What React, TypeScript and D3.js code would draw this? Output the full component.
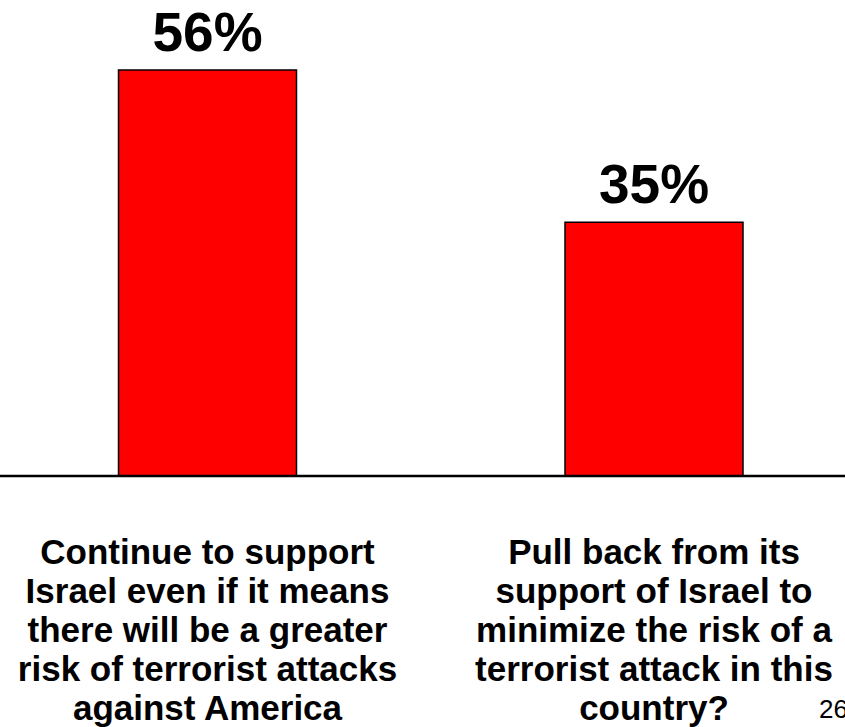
import React from "react";
import * as d3 from "d3";

const categories = ["continue", "pullback"];
const values = [56, 35];
const valueLabels = ["56%", "35%"];
const categoryLines = [
  [
    "Continue to support",
    "Israel even if it means",
    "there will be a greater",
    "risk of terrorist attacks",
    "against America",
  ],
  [
    "Pull back from its",
    "support of Israel to",
    "minimize the risk of a",
    "terrorist attack in this",
    "country?",
  ],
];
const pageNumber = "26";

const W = 845;
const H = 727;
const baseY = 476;
const barW = 178;

export default function App() {
  const x = d3.scalePoint<string>().domain(categories).range([207.5, 654]);
  const y = d3.scaleLinear().domain([0, 56]).range([baseY, 70]);
  const font = "'Liberation Sans', Arial, sans-serif";
  return (
    <svg
      width={W}
      height={H}
      style={{ position: "absolute", left: 0, top: 0 }}
      fontFamily={font}
    >
      <rect x={0} y={0} width={W} height={H} fill="#fff" />
      {categories.map((c, i) => {
        const cx = x(c)!;
        return (
          <g key={c}>
            <rect
              x={cx - barW / 2}
              y={y(values[i])}
              width={barW}
              height={baseY - y(values[i])}
              fill="#FF0000"
              stroke="#000"
              strokeWidth={1.5}
            />
            <text
              x={cx}
              y={y(values[i]) - 19}
              textAnchor="middle"
              fontSize={55}
              fontWeight="bold"
              fill="#000"
            >
              {valueLabels[i]}
            </text>
            <text
              x={cx}
              y={564}
              textAnchor="middle"
              fontSize={35}
              fontWeight="bold"
              fill="#000"
            >
              {categoryLines[i].map((line, j) => (
                <tspan key={j} x={cx} dy={j === 0 ? 0 : 39}>
                  {line}
                </tspan>
              ))}
            </text>
          </g>
        );
      })}
      <line x1={0} x2={W} y1={baseY} y2={baseY} stroke="#000" strokeWidth={2.5} />
      <text x={819} y={718} fontSize={26} fill="#000">
        {pageNumber}
      </text>
    </svg>
  );
}
